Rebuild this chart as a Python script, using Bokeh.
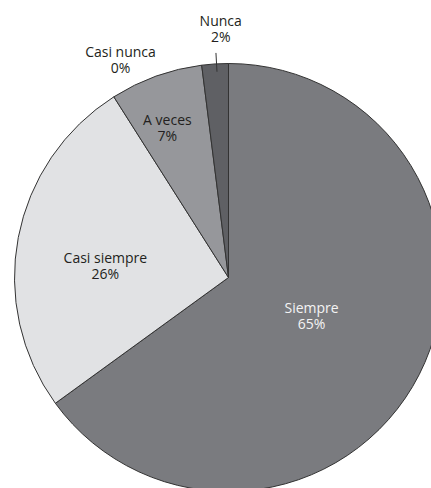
import numpy as np
from bokeh.plotting import figure
from bokeh.models import ColumnDataSource, Range1d
from bokeh.core.properties import value
from bokeh.embed import file_html
from bokeh.resources import INLINE

# ---- data ----
categories = ["Siempre", "Casi siempre", "A veces", "Casi nunca", "Nunca"]
percents = [65, 26, 7, 0, 2]
pct_labels = ["65%", "26%", "7%", "0%", "2%"]

# ---- style / layout ----
colors = ["#7a7b7f", "#e1e2e4", "#96979b", "#b0b1b4", "#5f6064"]
text_colors = ["#f4f4f4", "#231f20", "#231f20", "#231f20", "#231f20"]
label_r = [0.427, 0.578, 0.759, 1.137, 1.162]
label_shift_deg = [-2.4, -5.2, -2.3, -19.15, 1.8]

W, H = 431, 488
cx, cy, R = 228, 211, 214

vals = np.array(percents, dtype=float)
frac = vals / vals.sum()
cum_end = np.cumsum(frac)
cum_start = cum_end - frac
# counter-clockwise wedges from (end) to (start), measured from the top going clockwise
a_start = np.mod(np.pi / 2 - cum_end * 2 * np.pi, 2 * np.pi)
a_end = np.mod(np.pi / 2 - cum_start * 2 * np.pi, 2 * np.pi)

src = ColumnDataSource(dict(cat=categories, start=a_start, end=a_end, color=colors))
mask = vals > 0
src_nz = ColumnDataSource(dict(cat=[c for c, m in zip(categories, mask) if m],
                               start=a_start[mask], end=a_end[mask],
                               color=[c for c, m in zip(colors, mask) if m]))

p = figure(width=W, height=H, output_backend="svg", toolbar_location=None,
           x_range=Range1d(0, W), y_range=Range1d(0, H), min_border=0)
p.axis.visible = False
p.grid.visible = False
p.outline_line_color = None
p.background_fill_color = "white"
p.border_fill_color = "white"

p.wedge(x=cx, y=cy, radius=R, start_angle="start", end_angle="end", direction="anticlock",
        fill_color="color", line_color="#333333", line_width=1, source=src_nz)

# labels
mid_cw_deg = (cum_start + frac / 2) * 360 + np.array(label_shift_deg)
theta = np.deg2rad(mid_cw_deg)
lx = cx + np.array(label_r) * R * np.sin(theta)
ly = cy + np.array(label_r) * R * np.cos(theta)

lsrc = ColumnDataSource(dict(x=lx, y=ly, name=categories, pct=pct_labels, tc=text_colors))
font = value("Open Sans")
p.text(x="x", y="y", text="name", source=lsrc, text_font=font, text_font_size="14px",
       text_align="center", text_baseline="middle", text_color="tc", y_offset=-8)
p.text(x="x", y="y", text="pct", source=lsrc, text_font=font, text_font_size="14px",
       text_align="center", text_baseline="middle", text_color="tc", y_offset=8)

# leader line for Nunca
i = categories.index("Nunca")
a = np.deg2rad((cum_start[i] + frac[i] / 2) * 360 + 0.4)
r0, r1 = 0.963 * R, 1.051 * R
p.segment(x0=[cx + r0 * np.sin(a)], y0=[cy + r0 * np.cos(a)],
          x1=[cx + r1 * np.sin(a)], y1=[cy + r1 * np.cos(a)],
          line_color="#333333", line_width=1)

open("out.html", "w").write(file_html(p, INLINE))
